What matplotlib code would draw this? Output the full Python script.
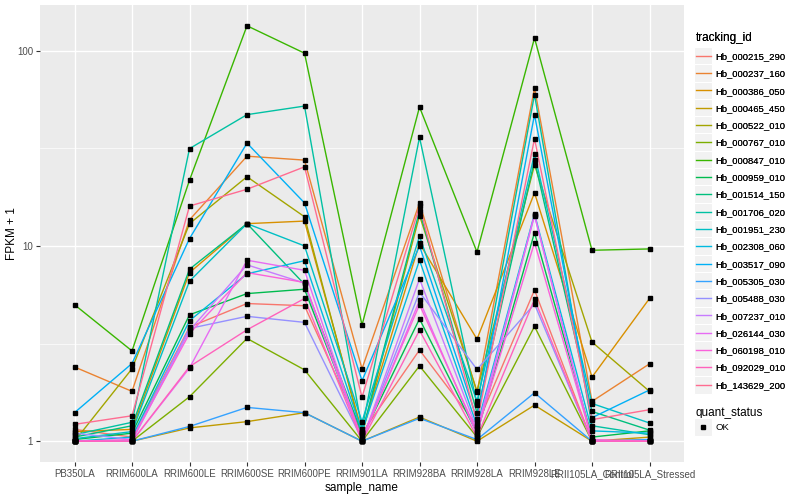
import matplotlib
matplotlib.use("Agg")
import matplotlib.pyplot as plt
from matplotlib.lines import Line2D
from matplotlib.patches import Rectangle
from matplotlib.legend_handler import HandlerLine2D
import numpy as np

samples = ["PB350LA", "RRIM600LA", "RRIM600LE", "RRIM600SE", "RRIM600PE",
           "RRIM901LA", "RRIM928BA", "RRIM928LA", "RRIM928LE",
           "RRII105LA_Control", "RRII105LA_Stressed"]

tracking_ids = ["Hb_000215_290", "Hb_000237_160", "Hb_000386_050", "Hb_000465_450",
                "Hb_000522_010", "Hb_000767_010", "Hb_000847_010", "Hb_000959_010",
                "Hb_001514_150", "Hb_001706_020", "Hb_001951_230", "Hb_002308_060",
                "Hb_003517_090", "Hb_005305_030", "Hb_005488_030", "Hb_007237_010",
                "Hb_026144_030", "Hb_060198_010", "Hb_092029_010", "Hb_143629_200"]

# FPKM + 1 values per gene, in sample order
hb_000215_290 = [1.15, 1.05, 3.84, 5.07, 4.94, 1.10, 2.93, 1.20, 5.95, 1.00, 1.02]
hb_000237_160 = [2.40, 1.80, 13.6, 28.8, 27.5, 2.35, 16.6, 1.78, 64.3, 1.60, 2.49]
hb_000386_050 = [1.12, 1.15, 7.3, 13.0, 13.4, 1.12, 10.3, 3.33, 18.7, 2.13, 5.38]
hb_000465_450 = [1.00, 1.00, 1.17, 1.26, 1.40, 1.00, 1.33, 1.00, 1.53, 1.00, 1.05]
hb_000522_010 = [1.00, 2.35, 13.0, 22.6, 14.1, 1.08, 14.3, 1.80, 26.0, 3.22, 1.80]
hb_000767_010 = [1.00, 1.00, 1.69, 3.36, 2.32, 1.00, 2.43, 1.05, 3.87, 1.00, 1.00]
hb_000847_010 = [5.00, 2.90, 21.7, 134.0, 97.0, 3.93, 51.4, 9.30, 116.0, 9.50, 9.65]
hb_000959_010 = [1.02, 1.10, 4.44, 5.70, 6.00, 1.05, 4.23, 1.10, 11.7, 1.05, 1.13]
hb_001514_150 = [1.05, 1.20, 7.6, 13.0, 6.36, 1.10, 15.1, 1.40, 27.4, 1.42, 1.14]
hb_001706_020 = [1.08, 1.25, 31.5, 47.0, 52.0, 1.15, 36.0, 1.54, 59.5, 1.20, 1.08]
hb_001951_230 = [1.03, 1.12, 6.6, 13.0, 10.0, 1.26, 11.2, 1.60, 29.5, 1.56, 1.24]
hb_002308_060 = [1.00, 1.05, 4.14, 7.2, 8.4, 1.12, 8.45, 1.20, 14.6, 1.13, 1.10]
hb_003517_090 = [1.40, 2.50, 10.9, 33.6, 16.6, 2.04, 10.0, 1.30, 47.0, 1.32, 1.83]
hb_005305_030 = [1.00, 1.00, 1.19, 1.49, 1.40, 1.00, 1.31, 1.02, 1.77, 1.00, 1.02]
hb_005488_030 = [1.10, 1.02, 3.78, 4.36, 4.06, 1.02, 5.80, 2.33, 5.04, 1.00, 1.00]
hb_007237_010 = [1.00, 1.00, 3.69, 8.00, 6.45, 1.00, 6.78, 1.15, 14.3, 1.00, 1.00]
hb_026144_030 = [1.00, 1.00, 2.37, 8.45, 7.50, 1.00, 5.26, 1.08, 14.4, 1.00, 1.00]
hb_060198_010 = [1.00, 1.02, 3.56, 7.30, 6.50, 1.03, 5.00, 1.12, 10.4, 1.02, 1.00]
hb_092029_010 = [1.00, 1.00, 2.41, 3.72, 5.38, 1.00, 3.70, 1.05, 5.33, 1.00, 1.00]
hb_143629_200 = [1.22, 1.35, 16.0, 19.5, 25.4, 1.68, 16.0, 1.25, 35.4, 1.29, 1.45]

series = [hb_000215_290, hb_000237_160, hb_000386_050, hb_000465_450, hb_000522_010,
          hb_000767_010, hb_000847_010, hb_000959_010, hb_001514_150, hb_001706_020,
          hb_001951_230, hb_002308_060, hb_003517_090, hb_005305_030, hb_005488_030,
          hb_007237_010, hb_026144_030, hb_060198_010, hb_092029_010, hb_143629_200]

colors = ["#F8766D", "#EA8331", "#D89000", "#C09B00", "#A3A500", "#7CAE00", "#39B600",
          "#00BB4E", "#00BF7D", "#00C1A3", "#00BFC4", "#00BAE0", "#00B0F6", "#35A2FF",
          "#9590FF", "#C77CFF", "#E76BF3", "#FA62DB", "#FF62BC", "#FF6C91"]

plt.rcParams['font.family'] = ['Liberation Sans', 'DejaVu Sans']

fig = plt.figure(figsize=(8, 5), dpi=100)
ax = fig.add_axes([40/800, 38/500, 644/800, 457/500])
ax.set_facecolor("#EBEBEB")
for s in ax.spines.values():
    s.set_visible(False)

x = np.arange(len(samples))
for vals, col in zip(series, colors):
    ax.plot(x, vals, color=col, lw=1.0, zorder=3)
for vals in series:
    ax.plot(x, vals, ls='none', marker='s', ms=2.4, color='black', zorder=4)

ax.set_yscale('log')
ymin, ymax = 1.0, 134.0
lo, hi = np.log10(ymin), np.log10(ymax)
pad = (hi - lo) * 0.05
ax.set_ylim(10**(lo - pad), 10**(hi + pad))
ax.set_xlim(-0.6, len(samples) - 1 + 0.6)

ax.set_yticks([1, 10, 100])
ax.set_yticklabels(["1", "10", "100"])
ax.set_yticks([10**0.5, 10**1.5], minor=True)
ax.yaxis.set_minor_formatter(matplotlib.ticker.NullFormatter())
ax.set_xticks(x)
ax.set_xticklabels(samples)
ax.grid(True, which='major', color='white', lw=1.0, zorder=0)
ax.grid(True, which='minor', axis='y', color='white', lw=0.5, zorder=0)
ax.set_axisbelow(True)
ax.tick_params(axis='both', which='major', length=3, color='#333333', labelsize=7,
               labelcolor='#4D4D4D', pad=2)
ax.tick_params(axis='y', which='minor', length=0)
ax.set_xlabel("sample_name", fontsize=8.5, labelpad=2)
ax.set_ylabel("FPKM + 1", fontsize=8.5)
ax.yaxis.set_label_coords(-22/644, 0.5)


class KeyHandler(HandlerLine2D):
    def create_artists(self, legend, orig_handle, xdescent, ydescent, width, height, fontsize, trans):
        rect = Rectangle((-xdescent - 1, -ydescent - 4), width + 2, height + 8,
                         facecolor='#F2F2F2', edgecolor='white', lw=0.8, transform=trans)
        arts = super().create_artists(legend, orig_handle, xdescent, ydescent, width, height, fontsize, trans)
        return [rect] + list(arts)


handles = [Line2D([0], [0], color=c, lw=1.0) for c in colors]
leg1 = fig.legend(handles, tracking_ids, loc='upper left', bbox_to_anchor=(692/800, 1 - 28/500),
                  frameon=False, fontsize=6.8, title="tracking_id", title_fontsize=8.5,
                  handlelength=1.6, handletextpad=0.5, labelspacing=0.88, borderaxespad=0,
                  handler_map={Line2D: KeyHandler()})
leg1._legend_box.align = "left"
fig.add_artist(leg1)

h2 = [Line2D([0], [0], ls='none', marker='s', ms=2.4, color='black')]
leg2 = fig.legend(h2, ["OK"], loc='upper left', bbox_to_anchor=(692/800, 1 - 403/500),
                  frameon=False, fontsize=6.8, title="quant_status", title_fontsize=8.5,
                  handlelength=1.6, handletextpad=0.5, borderaxespad=0,
                  handler_map={Line2D: KeyHandler()})
leg2._legend_box.align = "left"

fig.savefig("out.png", dpi=100)
